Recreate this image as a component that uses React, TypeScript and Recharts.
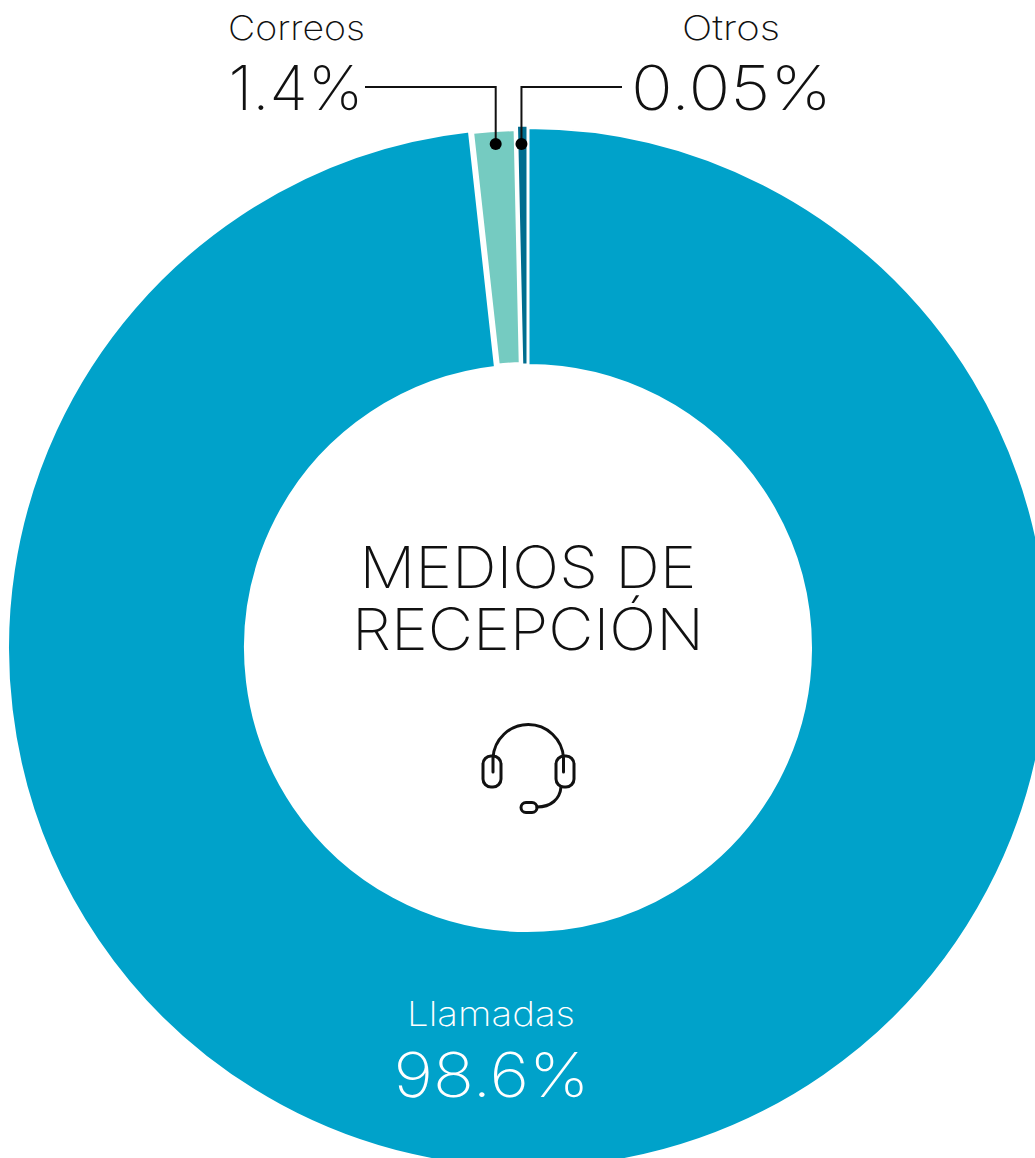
import { Cell, Pie, PieChart, Sector } from 'recharts'

const CATEGORIES = ['Llamadas', 'Correos', 'Otros']
// share of the ring as it is drawn in the picture (Otros is drawn wider than its 0.05%)
const DRAWN_SHARE = [98.25, 1.4, 0.35]
const VALUE_LABELS = ['98.6%', '1.4%', '0.05%']
const TITLE_LINES = ['MEDIOS DE', 'RECEPCIÓN']

const COLORS = ['#00A2CA', '#75CBC1', '#006D8F']
const GAPS = [2, 6, 3]
const DOT_NUDGE = [0, 1, -1]
// the original face is wider than Inter, so each text is stretched to its measured width
const NAME_WIDTHS = [168, 137, 98]
const VALUE_WIDTHS = [196, 135, 201]
const TITLE_WIDTHS = [337, 352]
const FONT = 'Inter, sans-serif'
const WEIGHT = 250
const INK = '#111111'

const data = CATEGORIES.map((name, i) => ({ name, value: DRAWN_SHARE[i] }))

const CX = 528
const CY = 648
const OUTER = 520
const INNER = 283

function Stretched({ width, children, ...rest }: any) {
  return (
    <text textAnchor="middle" fontFamily={FONT} fontWeight={WEIGHT} textLength={width} lengthAdjust="spacingAndGlyphs" {...rest}>
      {children}
    </text>
  )
}

function renderSlice(props: any) {
  const i = CATEGORIES.indexOf(props.payload?.name ?? props.name)
  return (
    <Sector
      {...props}
      outerRadius={i === 2 ? props.outerRadius + 3 : props.outerRadius}
      stroke="#ffffff"
      strokeWidth={GAPS[i]}
    />
  )
}

// callouts hang off the middle of each small slice
function renderCallout(props: any) {
  const { cx, cy, midAngle, index } = props
  if (index === 0) {
    return (
      <g key="llamadas">
        <Stretched x={491} y={1026} fontSize={34} fill="#ffffff" width={NAME_WIDTHS[0]}>{CATEGORIES[0]}</Stretched>
        <Stretched x={491.5} y={1097} fontSize={62} fill="#ffffff" width={VALUE_WIDTHS[0]}>{VALUE_LABELS[0]}</Stretched>
      </g>
    )
  }
  const rad = (midAngle * Math.PI) / 180
  const dotY = 144
  const dotX = cx + ((cy - dotY) / Math.sin(rad)) * Math.cos(rad) + DOT_NUDGE[index]
  const left = index === 1
  const elbowY = 87
  const endX = left ? 365 : 622
  return (
    <g key={CATEGORIES[index]}>
      <polyline points={`${dotX},${dotY} ${dotX},${elbowY} ${endX},${elbowY}`} fill="none" stroke={INK} strokeWidth={2} />
      <circle cx={dotX} cy={dotY} r={6} fill="#000000" />
      <Stretched x={left ? 296.5 : 731} y={40} fontSize={34} fill={INK} width={NAME_WIDTHS[index]}>
        {CATEGORIES[index]}
      </Stretched>
      <Stretched x={left ? 296 : 731.5} y={110} fontSize={62} fill={INK} width={VALUE_WIDTHS[index]}>
        {VALUE_LABELS[index]}
      </Stretched>
    </g>
  )
}

function Headset() {
  return (
    <g fill="none" stroke={INK} strokeWidth={3} strokeLinecap="round" strokeLinejoin="round">
      <path d="M493 772 V758 A35.3 35.3 0 0 1 563.5 758 V772" />
      <rect x={483} y={756} width={18} height={31} rx={8} />
      <rect x={556} y={756} width={18} height={31} rx={8} />
      <path d="M561 787 C560 799 551 807 537 807" />
      <rect x={521} y={802.5} width={16} height={10} rx={5} />
    </g>
  )
}

export default function App() {
  return (
    <div style={{ position: 'absolute', left: 0, top: 0, width: 1035, height: 1158, overflow: 'hidden', background: '#fff' }}>
      <PieChart width={1035} height={1158} margin={{ top: 0, right: 0, bottom: 0, left: 0 }}>
        <Pie
          data={data}
          dataKey="value"
          nameKey="name"
          cx={CX}
          cy={CY}
          innerRadius={INNER}
          outerRadius={OUTER}
          startAngle={90}
          endAngle={-270}
          shape={renderSlice}
          label={renderCallout}
          labelLine={false}
          isAnimationActive={false}
        >
          {data.map((entry, i) => (
            <Cell key={entry.name} fill={COLORS[i]} />
          ))}
        </Pie>
        <Stretched x={CX} y={588} fontSize={58} fill={INK} width={TITLE_WIDTHS[0]}>
          {TITLE_LINES[0]}
        </Stretched>
        <Stretched x={CX} y={650} fontSize={58} fill={INK} width={TITLE_WIDTHS[1]}>
          {TITLE_LINES[1]}
        </Stretched>
        <Headset />
      </PieChart>
    </div>
  )
}
